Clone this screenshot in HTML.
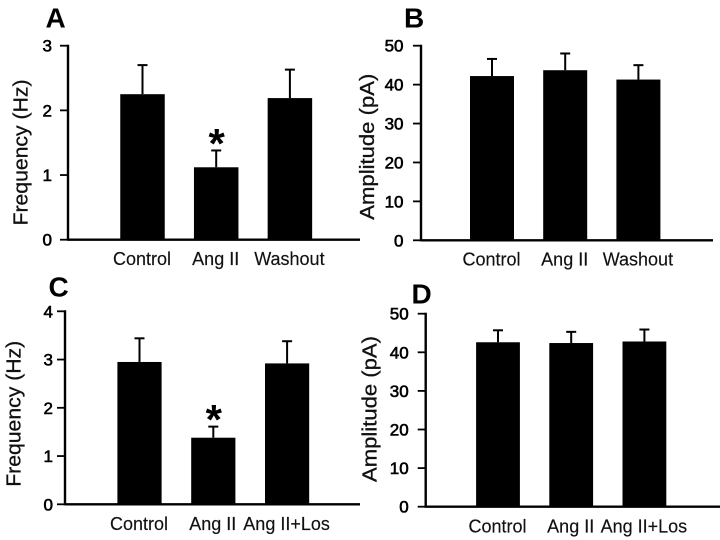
<!DOCTYPE html>
<html>
<head>
<meta charset="utf-8">
<title>Frequency and amplitude bar charts</title>
<style>
html,body{margin:0;padding:0;background:#fff;width:720px;height:540px;overflow:hidden}
svg{display:block;font-family:"Liberation Sans",sans-serif;filter:blur(0.3px)}
</style>
</head>
<body>
<svg id="figure" width="720" height="540" viewBox="0 0 720 540" xmlns="http://www.w3.org/2000/svg"></svg>
<script>
// Panel A data
const categoriesA = ["Control", "Ang II", "Washout"];
const meansA = [2.25, 1.12, 2.19];
const errorsA = [0.45, 0.26, 0.44];
const ticksA = [0, 1, 2, 3];
// Panel B data
const categoriesB = ["Control", "Ang II", "Washout"];
const meansB = [42.2, 43.7, 41.3];
const errorsB = [4.4, 4.3, 3.7];
const ticksB = [0, 10, 20, 30, 40, 50];
// Panel C data
const categoriesC = ["Control", "Ang II", "Ang II+Los"];
const meansC = [2.95, 1.38, 2.92];
const errorsC = [0.49, 0.23, 0.46];
const ticksC = [0, 1, 2, 3, 4];
// Panel D data
const categoriesD = ["Control", "Ang II", "Ang II+Los"];
const meansD = [42.6, 42.4, 42.8];
const errorsD = [3.1, 2.9, 3.1];
const ticksD = [0, 10, 20, 30, 40, 50];
// Significance flags
const significantA = [false, true, false];
const significantC = [false, true, false];
const noSignificance = [false, false, false];

const NS = "http://www.w3.org/2000/svg";
const figure = document.getElementById("figure");

function make(parent, tag, attrs, text) {
  const el = document.createElementNS(NS, tag);
  for (const k in attrs) el.setAttribute(k, attrs[k]);
  if (text !== undefined) el.textContent = text;
  parent.appendChild(el);
  return el;
}

function drawPanel(p) {
  const g = make(figure, "g", {});
  
  

  const top = p.ticks[p.ticks.length - 1];
  const yScale = v => p.y0 - (v / top) * (p.y0 - p.yTop);
  const xScale = i => p.firstCenter + i * p.step;

  const letter = make(g, "text", {x: p.letterX, y: p.letterY, "font-size": 28, "font-weight": "bold", fill: "#000"}, p.letter);
  
  

  p.categories.forEach((c, i) => {
    const cx = xScale(i);
    const yv = yScale(p.means[i]);
    const ye = yScale(p.means[i] + p.errors[i]);

    const stem = make(g, "line", {x1: cx, x2: cx, y1: ye, y2: yv, stroke: "#000", "stroke-width": 2});
    
    

    const cap = make(g, "line", {x1: cx - 5, x2: cx + 5, y1: ye, y2: ye, stroke: "#000", "stroke-width": 2});
    
    

    const bar = make(g, "rect", {x: cx - p.barWidth / 2, y: yv, width: p.barWidth, height: p.y0 - yv, fill: "#000"});
    
    

    const label = make(g, "text", {x: cx - 0.5, y: p.labelY, "font-size": 18, "text-anchor": "middle", fill: "#111", stroke: "#111", "stroke-width": 0.15}, c);
    
    

    if (p.significant[i]) {
      const star = make(g, "text", {x: cx + 0.5, y: ye + 7.5, "font-size": 42, "font-weight": "bold", "text-anchor": "middle", fill: "#000"}, "*");
      
      
    }
  });

  const yAxis = make(g, "line", {x1: p.axisX, x2: p.axisX, y1: p.yTop - 1, y2: p.y0 + 1, stroke: "#000", "stroke-width": 2.4});
  
  

  const xAxis = make(g, "line", {x1: p.axisX, x2: p.xEnd, y1: p.y0, y2: p.y0, stroke: "#000", "stroke-width": 2.4});
  
  

  p.ticks.forEach(t => {
    const ty = yScale(t);
    const tick = make(g, "line", {x1: p.axisX - 8, x2: p.axisX, y1: ty, y2: ty, stroke: "#000", "stroke-width": 1.8});
    
    

    const tl = make(g, "text", {x: p.axisX - p.tickGap, y: ty + 6, "font-size": 17, "text-anchor": "end", fill: "#000", stroke: "#000", "stroke-width": 0.6}, String(t));
    
    
  });

  const title = make(g, "text", {
    transform: "translate(" + p.titleX + "," + p.titleY + ") rotate(-90)",
    "font-size": 20, "text-anchor": "middle", fill: "#111", stroke: "#111", "stroke-width": 0.3,
    textLength: 146, lengthAdjust: "spacingAndGlyphs"
  }, p.title);
  
  
}

drawPanel({letter: "A", letterX: 45.5, letterY: 27.3, categories: categoriesA, means: meansA, errors: errorsA, ticks: ticksA, significant: significantA,
  title: "Frequency (Hz)", titleX: 27.5, titleY: 152.5, axisX: 68, xEnd: 360, y0: 239.7, yTop: 45.7, firstCenter: 142.5, step: 73.7, barWidth: 44.5, labelY: 265, tickGap: 16});
drawPanel({letter: "B", letterX: 404, letterY: 27.3, categories: categoriesB, means: meansB, errors: errorsB, ticks: ticksB, significant: noSignificance,
  title: "Amplitude (pA)", titleX: 374, titleY: 146.7, axisX: 421, xEnd: 713, y0: 240.3, yTop: 45.7, firstCenter: 492, step: 73.2, barWidth: 44, labelY: 265.7, tickGap: 17.5});
drawPanel({letter: "C", letterX: 48.5, letterY: 296.5, categories: categoriesC, means: meansC, errors: errorsC, ticks: ticksC, significant: significantC,
  title: "Frequency (Hz)", titleX: 20.7, titleY: 413.8, axisX: 65, xEnd: 360, y0: 504.3, yTop: 311.3, firstCenter: 139.5, step: 73.8, barWidth: 44.2, labelY: 530, tickGap: 12});
drawPanel({letter: "D", letterX: 411.5, letterY: 303.3, categories: categoriesD, means: meansD, errors: errorsD, ticks: ticksD, significant: noSignificance,
  title: "Amplitude (pA)", titleX: 376.7, titleY: 409, axisX: 425.7, xEnd: 720, y0: 506.7, yTop: 313.7, firstCenter: 498, step: 73.2, barWidth: 43.8, labelY: 532.7, tickGap: 17});
</script>
</body>
</html>
